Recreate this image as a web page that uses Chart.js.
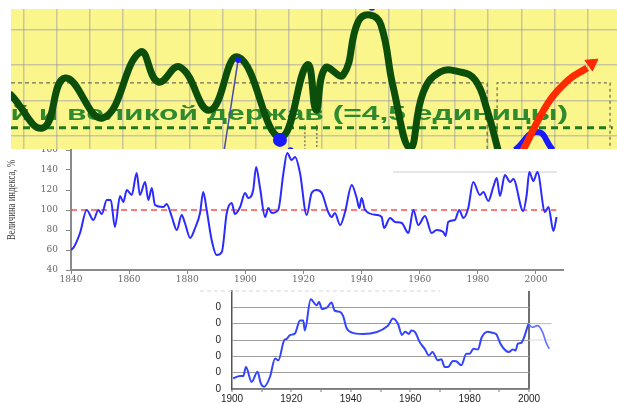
<!DOCTYPE html>
<html lang="ru">
<head>
<meta charset="utf-8">
<title>Величина индекса</title>
<script src="https://cdn.jsdelivr.net/npm/chart.js@4.4.0/dist/chart.umd.min.js"></script>
<style>
  html, body { margin: 0; padding: 0; background: #fff; }
  body { width: 617px; height: 403px; position: relative; overflow: hidden; }
  .panel { position: absolute; }
  #wave-box { left: 11px; top: 9px; width: 606px; height: 140px; background: #fbf68c; z-index: 3; }
  #index-box { left: 0; top: 139px; width: 617px; height: 151px; background: #fff; z-index: 1; }
  #share-box { left: 190px; top: 285px; width: 427px; height: 118px; background: #fff; z-index: 2; }
</style>
</head>
<body>
<div class="panel" id="wave-box"><canvas id="wave-chart"></canvas></div>
<div class="panel" id="index-box"><canvas id="index-chart"></canvas></div>
<div class="panel" id="share-box"><canvas id="share-chart"></canvas></div>

<script>
/**
 * Верхний фрагмент: волна на жёлтой сетке (единицы = клетки сетки)
 */
const waveX = [-0.37, 0.59, 1.26, 2.40, 3.52, 4.06, 4.72, 5.62, 6.47, 7.73, 8.55, 8.82, 9.09, 9.63, 10.08, 10.44, 10.77, 11.14, 11.65, 12.04, 12.55, 13.15, 13.61, 13.97, 14.30];
const waveY = [1.16, 0.23, 1.64, 0.51, 2.37, 1.53, 1.95, 0.73, 2.23, -0.03, 2.01, 0.73, 1.92, 1.72, 3.22, 3.42, 3.14, 1.38, -0.34, 1.22, 1.81, 1.81, 1.58, 0.73, -0.40];

const grayFrameX = [-0.37, 13.97, 13.97];
const grayFrameY = [1.50, 1.50, -0.40];
const rightBoxX = [14.27, 14.27, 17.67, 17.67];
const rightBoxY = [-0.40, 1.50, 1.50, -0.40];
const gapLinesX = [8.48, 8.48, 8.66, 8.84, 8.84];
const gapLinesY = [-0.40, 0.31, null, 0.31, -0.40];
const greenLevel = 0.23;

const pointerX = [6.47, 6.05];
const pointerY = [2.15, -0.40];
const blueDotsX = [6.47, 7.73, 8.05, 10.50];
const blueDotsY = [2.15, -0.11, -0.40, 3.64];
const blueDotsR = [3, 7, 3, 3.5];
const blueArcX = [14.81, 15.47, 15.95];
const blueArcY = [-0.40, 0.11, -0.40];
const redArrowX = [15.05, 15.80, 16.41, 16.98];
const redArrowY = [-0.40, 0.93, 1.58, 1.92];
const arrowTip = {x: 17.12, y: 2.05};

const captionLead = 'й и ';
const captionRest = 'великой держав (=4,5 единицы)';
const captionFrom = 1.32, captionTo = 16.41, captionBase = 0.45;

/**
 * Средний график: величина индекса, %
 */
const indexYears = [1840, 1841, 1843.1, 1845.4, 1847.7, 1849.4, 1850.6, 1852.3, 1853.7, 1855.1, 1856.9, 1858, 1859.2, 1860.9, 1862.6, 1863.7, 1865.5, 1866.6, 1867.8, 1868.9, 1871.8, 1872.9, 1874.7, 1876.4, 1878.1, 1879.2, 1881, 1882.7, 1884.4, 1885.5, 1886.7, 1888.4, 1890.1, 1891.9, 1893.6, 1895.3, 1896.4, 1898.2, 1899.9, 1901, 1902.7, 1903.7, 1905, 1906.8, 1907.9, 1909.1, 1911.3, 1913.1, 1914.4, 1915.9, 1917.1, 1918.8, 1921.1, 1922.8, 1924.5, 1926.3, 1928.5, 1929.7, 1930.8, 1932.6, 1934.3, 1936.6, 1938.3, 1939.2, 1940, 1941.2, 1945.2, 1946.9, 1947.7, 1949.8, 1951.5, 1953.8, 1956.1, 1957.8, 1959.5, 1961.8, 1964.1, 1965.8, 1968.1, 1968.9, 1969.8, 1972.1, 1973.6, 1975, 1976.7, 1978.4, 1980.7, 1981.9, 1983.6, 1985.3, 1986.5, 1987.6, 1989.3, 1991.1, 1992.2, 1995.6, 1996.8, 1997.7, 1999.1, 2000.5, 2003.1, 2004.3, 2006, 2007.1];
const indexValues = [60, 63, 77, 100, 90, 100, 96, 110, 110, 83, 114, 108, 120, 115, 137, 115, 128, 110, 122, 105, 103, 106, 93, 80, 95, 87, 72, 82, 97, 118, 100, 70, 55, 58, 97, 107, 96, 103, 117, 112, 120, 143, 123, 93, 102, 97, 100, 137, 157, 150, 153, 137, 95, 117, 120, 117, 98, 93, 97, 85, 98, 125, 112, 102, 112, 100, 95, 93, 82, 92, 88, 87, 77, 100, 85, 94, 77, 80, 78, 74, 88, 90, 100, 92, 102, 128, 115, 118, 109, 123, 132, 114, 135, 128, 131, 99, 115, 138, 129, 138, 98, 103, 79, 93];
const indexBase = 100;
const indexBaseSpan = [1840, 2007];
const faintRuleSpan = [1950.8, 2007.2];
const faintRuleLevel = 138;
const indexTitle = 'Величина индекса, %';

/**
 * Нижний фрагмент
 */
const shareYears = [1900.4, 1902.7, 1903.8, 1904.7, 1906.6, 1908.6, 1909.7, 1910.8, 1912.8, 1914.5, 1915.6, 1917.6, 1918.4, 1919.5, 1921.2, 1922.9, 1924, 1924.5, 1926.5, 1928.5, 1929.3, 1930.3, 1932, 1933.5, 1934.6, 1936.3, 1937.4, 1938.6, 1940.2, 1944.1, 1952.5, 1954.2, 1955.9, 1957.2, 1958.3, 1959.5, 1960.4, 1961.7, 1963.2, 1964.9, 1966.3, 1967.5, 1969.3, 1970.5, 1971.6, 1972.7, 1974.4, 1975.5, 1977.2, 1978.9, 1980, 1981.3, 1982.8, 1984.1, 1986.1, 1987.6, 1988.9, 1990.6, 1993.2, 1994.5, 1995.5, 1996.2, 1997.4, 1999.8];
const shareValues = [6.5, 8, 8, 13.5, 4.4, 10.5, 3.4, 1.4, 7.5, 18.6, 17.6, 30, 30.7, 33, 34, 42, 42, 35.8, 55, 51.3, 53.3, 48.9, 49.9, 52.9, 47.9, 47.3, 44.8, 37.2, 34.7, 33.7, 38.8, 43.2, 39.8, 33.1, 35.1, 33.7, 35.8, 34.7, 28.7, 24.6, 20.6, 22.6, 17.6, 18.2, 13.5, 13.5, 17.2, 17, 14.5, 21.6, 21.6, 24.6, 24.2, 31.7, 35.1, 34.4, 33.7, 27, 22.6, 24.2, 23.6, 27.7, 28.3, 39.8];
const shareTailYears = [1999.8, 2001.1, 2002.9, 2004.6, 2005.7, 2006.8];
const shareTailValues = [39.8, 37.8, 38.8, 34.7, 28.7, 24.6];
const shareTickText = ['0', '0', '0', '0', '0', '0'];
const shareStubLevels = [40, 30];
const shareStubSpan = [2000, 2007.6];
const shareTopSpan = [1889.2, 1970];


const pts = (xs, ys) => xs.map((x, i) => ({x: x, y: ys[i]}));
const hline = (span, level) => [{x: span[0], y: level}, {x: span[1], y: level}];

Chart.defaults.animation = false;
Chart.defaults.events = [];
Chart.defaults.plugins.legend.display = false;
Chart.defaults.plugins.tooltip.enabled = false;


// подпись под волной
const captionPlugin = {
  id: 'caption',
  beforeDatasetsDraw(chart) {
    const {ctx, chartArea, scales: {x, y}} = chart;
    ctx.save();
    ctx.beginPath();
    ctx.rect(chartArea.left, chartArea.top, chartArea.width, chartArea.height);
    ctx.clip();
    ctx.font = 'bold 20px "Liberation Sans", Arial, sans-serif';
    ctx.fillStyle = '#2f8a2f';
    const lead = ctx.measureText(captionLead).width;
    const rest = ctx.measureText(captionRest).width;
    const x0 = x.getPixelForValue(captionFrom);
    const k = (x.getPixelForValue(captionTo) - x0) / rest;
    ctx.translate(x0 - lead * k, y.getPixelForValue(captionBase));
    ctx.scale(k, 1);
    ctx.fillText(captionLead + captionRest, 0, 0);
    ctx.restore();
  }
};

const gridCell = 'rgba(140,140,175,0.45)';

new Chart(document.getElementById('wave-chart'), {
  type: 'line',
  data: {
    datasets: [
      {data: pts(grayFrameX, grayFrameY), borderColor: '#6f6f5a', borderWidth: 1.3, borderDash: [4, 3], pointRadius: 0, order: 10},
      {data: pts(rightBoxX, rightBoxY), borderColor: '#6f6f5a', borderWidth: 1.3, borderDash: [3, 3], pointRadius: 0, order: 10},
      {data: pts(gapLinesX, gapLinesY), borderColor: '#6f6f5a', borderWidth: 1.3, borderDash: [2, 2], pointRadius: 0, spanGaps: false, order: 10},
      {data: hline([-0.37, 17.75], greenLevel), borderColor: '#1f7a1f', borderWidth: 3, borderDash: [7, 5], pointRadius: 0, order: 9},
      {data: pts(pointerX, pointerY), borderColor: '#4a4aa8', borderWidth: 1.5, pointRadius: 0, order: 6},
      {data: pts(waveX, waveY), borderColor: '#0b4f0b', borderWidth: 7, pointRadius: 0, tension: 0.45, borderCapStyle: 'round', order: 5},
      {data: pts(blueDotsX, blueDotsY), showLine: false, pointRadius: blueDotsR, pointBackgroundColor: '#1a1aff', pointBorderWidth: 0, order: 4},
      {data: pts(blueArcX, blueArcY), borderColor: '#1a1aff', borderWidth: 6, pointRadius: 0, tension: 0.5, order: 3},
      {data: pts(redArrowX, redArrowY), borderColor: '#ff2a00', borderWidth: 7, pointRadius: 0, tension: 0.4, order: 2},
      {data: [arrowTip], showLine: false, pointStyle: 'triangle', pointRadius: 7.5, rotation: 55, pointBackgroundColor: '#ff2a00', pointBorderColor: '#ff2a00', order: 1}
    ]
  },
  options: {
    responsive: true,
    maintainAspectRatio: false,
    layout: {padding: 0, autoPadding: false},
    scales: {
      x: {type: 'linear', min: -0.37, max: 17.88,
        ticks: {display: false, stepSize: 1, includeBounds: false, maxTicksLimit: 100},
        grid: {color: gridCell, lineWidth: 1.5, drawTicks: false},
        border: {display: false}},
      y: {type: 'linear', min: -0.367, max: 3.588,
        ticks: {display: false, stepSize: 1, includeBounds: false, maxTicksLimit: 100},
        grid: {color: gridCell, lineWidth: 1.5, drawTicks: false},
        border: {display: false}}
    }
  },
  plugins: [captionPlugin]
});


// подпись оси Y среднего графика
const axisTitlePlugin = {
  id: 'axisTitle',
  afterDraw(chart) {
    const {ctx, scales: {y}} = chart;
    ctx.save();
    ctx.font = '12px "Liberation Serif", "Times New Roman", serif';
    ctx.fillStyle = '#3c3c3c';
    ctx.textAlign = 'center';
    ctx.textBaseline = 'middle';
    const w = ctx.measureText(indexTitle).width;
    ctx.translate(12, y.getPixelForValue(110));
    ctx.rotate(-Math.PI / 2);
    ctx.scale(80 / w, 1);
    ctx.fillText(indexTitle, 0, 0);
    ctx.restore();
  }
};

// фиксированные размеры осей, без добавочных отступов от подписей
const fixWidth = w => s => { s.width = w; s.paddingTop = 0; s.paddingBottom = 0; };
const fixHeight = h => s => { s.height = h; s.paddingLeft = 0; s.paddingRight = 0; };

const serifTicks = {family: '"DejaVu Serif", serif', size: 9};

new Chart(document.getElementById('index-chart'), {
  type: 'line',
  data: {
    datasets: [
      {data: pts(indexYears, indexValues), borderColor: '#2b2bff', borderWidth: 2, pointRadius: 0, cubicInterpolationMode: 'monotone', order: 1},
      {data: hline(indexBaseSpan, indexBase), borderColor: '#ff4d4d', borderWidth: 1.5, borderDash: [6, 4], pointRadius: 0, order: 2},
      {data: hline(faintRuleSpan, faintRuleLevel), borderColor: '#dedede', borderWidth: 1.5, pointRadius: 0, order: 3}
    ]
  },
  options: {
    responsive: true,
    maintainAspectRatio: false,
    layout: {padding: {top: 11, right: 54, left: 0, bottom: 0}, autoPadding: false},
    scales: {
      x: {type: 'linear', min: 1840, max: 2009.3,
        afterFit: fixHeight(20),
        ticks: {stepSize: 20, includeBounds: false, autoSkip: false, maxRotation: 0, padding: 0, color: '#666', font: serifTicks, callback: v => String(v)},
        grid: {drawOnChartArea: false, tickLength: 4, color: '#8a8a8a'},
        border: {color: '#8a8a8a', width: 2}},
      y: {type: 'linear', min: 40, max: 160,
        afterFit: fixWidth(71),
        ticks: {stepSize: 20, padding: 8, color: '#666', font: serifTicks},
        grid: {drawOnChartArea: false, tickLength: 5, color: '#8a8a8a'},
        border: {color: '#8a8a8a', width: 2}}
    }
  },
  plugins: [axisTitlePlugin]
});


const sansTicks = {family: '"Liberation Sans", Arial, sans-serif', size: 10};

new Chart(document.getElementById('share-chart'), {
  type: 'line',
  data: {
    datasets: [
      {data: pts(shareYears, shareValues), borderColor: '#3344ff', borderWidth: 2, pointRadius: 0, cubicInterpolationMode: 'monotone', order: 1},
      {data: pts(shareTailYears, shareTailValues), borderColor: '#6272ff', borderWidth: 1.6, pointRadius: 0, cubicInterpolationMode: 'monotone', clip: false, order: 2},
      {data: hline(shareStubSpan, shareStubLevels[0]), borderColor: '#b8b8b8', borderWidth: 1, pointRadius: 0, clip: false, order: 3},
      {data: hline(shareStubSpan, shareStubLevels[1]), borderColor: '#dcdcdc', borderWidth: 1, pointRadius: 0, clip: false, order: 3},
      {data: hline(shareTopSpan, 60), borderColor: '#d6d6d6', borderWidth: 1, borderDash: [4, 3], pointRadius: 0, clip: false, order: 3}
    ]
  },
  options: {
    responsive: true,
    maintainAspectRatio: false,
    layout: {padding: {top: 6, right: 88, left: 0, bottom: 0}, autoPadding: false},
    scales: {
      // границы 1900–2000 задаются после расчёта, чтобы хвост после 2000 не обрезался
      x: {type: 'linear',
        afterDataLimits: s => { s.min = 1900; s.max = 2000; },
        afterFit: fixHeight(14),
        ticks: {stepSize: 10, autoSkip: false, maxRotation: 0, padding: 1, color: '#222', font: sansTicks, maxTicksLimit: 100,
          callback: v => (v % 20 === 0 ? String(v) : '')},
        grid: {color: c => (c.tick && c.tick.value === 2000 ? '#6f6f6f' : 'rgba(0,0,0,0)'), lineWidth: 2, tickColor: '#777', tickWidth: 1, tickLength: 3},
        border: {color: '#7a7a7a', width: 1.5}},
      y: {type: 'linear', min: 0, max: 60,
        afterFit: fixWidth(42),
        afterBuildTicks: s => { s.ticks = s.ticks.filter(t => t.value <= 50); },
        ticks: {stepSize: 10, padding: 11, color: '#222', font: sansTicks, callback: v => shareTickText[v / 10]},
        grid: {color: '#9d9d9d', lineWidth: 1, drawTicks: false},
        border: {color: '#555', width: 1.5}}
    }
  }
});
</script>
</body>
</html>
